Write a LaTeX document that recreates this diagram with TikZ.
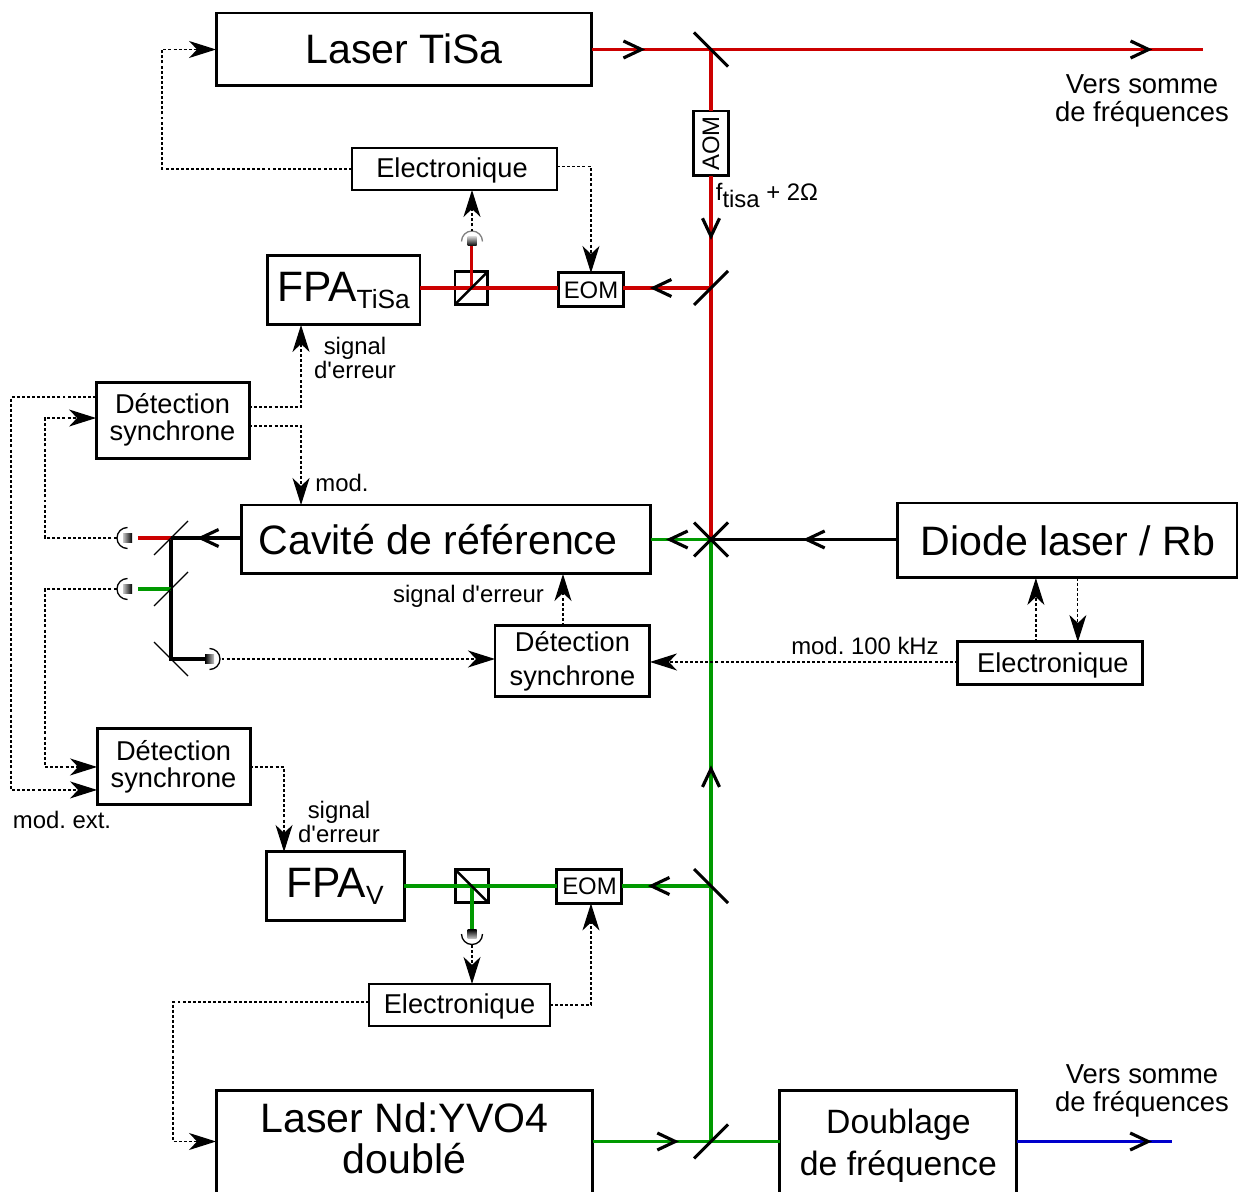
\documentclass[tikz,border=0pt]{standalone}
\usepackage{fontspec}
\usetikzlibrary{arrows.meta,positioning,calc,decorations.markings}
\newfontfamily\arialfont{Liberation Sans}
\definecolor{beamred}{HTML}{CC0000}
\definecolor{beamgreen}{HTML}{009900}
\definecolor{beamblue}{HTML}{0000CC}
\newcommand{\fpasub}[1]{\raisebox{-4pt}{\fontsize{15}{15}\selectfont #1}}
\newcommand{\detector}[4]{%
  \begin{scope}[shift={(#1)},rotate=#2]
    \shade[top color=black,bottom color=gray!45,shading angle=#4] (-4.5,-4.5) rectangle (4.5,4.5);
    \draw[#3,line width=0.75pt] (0,10.5) arc[start angle=90,end angle=270,radius=10.5];
  \end{scope}}
\frenchspacing

\begin{document}
\begin{tikzpicture}[
  x=0.02cm,y=-0.02cm,
  box/.style={draw=black,line width=1.7pt,outer sep=0pt,inner sep=0pt,align=center,fill=white},
  thinbox/.style={box,line width=1.2pt},
  bigtext/.style={font=\arialfont\fontsize{23.4}{23.4}\selectfont},
  fpatext/.style={font=\arialfont\fontsize{24.2}{24.2}\selectfont},
  midtext/.style={font=\arialfont\fontsize{15.5}{15.3}\selectfont},
  largetext/.style={font=\arialfont\fontsize{19.2}{24}\selectfont},
  smalltext/.style={font=\arialfont\fontsize{13.6}{13.6}\selectfont},
  cubebox/.style={draw=black,line width=1.7pt,outer sep=0pt,minimum size=0.66cm},
  beam/.style={line width=1.8pt},
  tipat/.style={postaction={decorate,decoration={markings,
    mark=at position #1 with {\arrow{Straight Barb[black,length=3.6mm,width=3.4mm]}}}}},
  signal/.style={-{Stealth[length=5.4mm,width=3.4mm,inset=1.6mm]},line width=0.7pt,dash pattern=on 1.7pt off 1.2pt},
  mirror/.style={line width=1.8pt},
  thinmirror/.style={line width=0.8pt}
]
  \useasboundingbox (0,0) rectangle (1238,1192);

  % boites
  \node[box,bigtext,text depth=1pt,minimum width=7.52cm,minimum height=1.46cm] (lasertisa) at (404,49.5) {Laser TiSa};
  \node[thinbox,midtext,text depth=1pt,minimum width=4.10cm,minimum height=0.84cm,below=1.24cm of lasertisa,xshift=1.01cm] (electisa) {Electronique\hspace*{0.1cm}};
  \node[box,fpatext,minimum width=3.06cm,minimum height=1.38cm,below=1.32cm of electisa,xshift=-2.22cm] (fpatisa) {FPA\fpasub{TiSa}};
  \node[cubebox,right=0.70cm of fpatisa,yshift=0.05cm] (cubetisa) {};
  \node[box,smalltext,minimum width=1.30cm,minimum height=0.68cm,right=1.41cm of cubetisa,yshift=-0.04cm] (eomtisa) {EOM};
  \node[box,smalltext,rotate=90,minimum width=1.30cm,minimum height=0.70cm] (aom) at (711,143.5) {AOM};

  \node[box,bigtext,minimum width=8.20cm,minimum height=1.38cm] (cavite) at (446,539.5) {Cavité de référence\hspace*{0.32cm}};
  \node[box,midtext,minimum width=3.06cm,minimum height=1.52cm,above=0.94cm of cavite,xshift=-5.47cm] (dettisa) {Détection\\synchrone};
  \node[box,midtext,font=\arialfont\fontsize{15.5}{19}\selectfont,minimum width=3.10cm,minimum height=1.42cm,below=1.04cm of cavite,xshift=2.53cm] (detcav) {Détection\\synchrone};
  \node[box,bigtext,minimum width=6.80cm,minimum height=1.50cm,right=4.94cm of cavite,yshift=-0.02cm] (diode) {Diode laser / Rb};
  \node[box,midtext,text depth=1pt,minimum width=3.70cm,minimum height=0.86cm,below=1.28cm of diode,xshift=-0.35cm] (elecdiode) {\hspace*{0.1cm}Electronique};

  \node[box,midtext,minimum width=3.06cm,minimum height=1.52cm,below=5.42cm of dettisa,xshift=0.02cm] (detnd) {Détection\\synchrone};
  \node[box,fpatext,minimum width=2.76cm,minimum height=1.38cm,below=0.94cm of detnd,xshift=3.23cm] (fpand) {FPA\fpasub{V}};
  \node[cubebox,right=1.03cm of fpand] (cubend) {};
  \node[box,smalltext,minimum width=1.30cm,minimum height=0.68cm,right=1.37cm of cubend] (eomnd) {EOM};
  \node[thinbox,midtext,text depth=1pt,minimum width=3.62cm,minimum height=0.84cm,below=1.62cm of cubend,xshift=-0.25cm] (elecnd) {Electronique};
  \node[box,bigtext,text depth=0.30cm,minimum width=7.54cm,minimum height=2.20cm,below=1.30cm of elecnd,xshift=-1.10cm] (laserNd) {Laser Nd:YVO4\\doublé};
  \node[box,largetext,minimum width=4.74cm,minimum height=2.20cm,right=3.74cm of laserNd] (doublage) {Doublage\\de fréquence};

  % miroirs et detecteurs
  \coordinate (mtop) at (711,49.5);
  \coordinate (mtisa) at (711,288);
  \coordinate (mcross) at (711,539.5);
  \coordinate (mnd) at (711,886);
  \coordinate (mdouble) at (711,1141.5);
  \coordinate (msplit) at (171,538);
  \coordinate (mgreen) at (171,589);
  \coordinate (mbend) at (171,659);
  \coordinate (dettop) at (472,241.5);
  \coordinate (detlow) at (472,934);
  \coordinate (detred) at (127.5,538);
  \coordinate (detgreen) at (127.5,589);
  \coordinate (detdark) at (209.5,659);
  \coordinate (outtisa) at (1203,49.5);
  \coordinate (outblue) at (1172,1141.5);

  % faisceaux
  \draw[beam,beamred,tipat=0.087,tipat=0.917] (lasertisa.east) -- (outtisa);
  \draw[beam,beamred] (mtop) -- (aom.east);
  \draw[beam,beamred,tipat=0.176] (aom.west) -- (mcross);
  \draw[beam,beamred,tipat=0.70] (mtisa) -- (mtisa -| eomtisa.east);
  \draw[beam,beamred] (eomtisa.west |- mtisa) -- (fpatisa.east |- mtisa);
  \draw[beam,beamred] (cubetisa.center) -- (cubetisa.center |- {$(dettop)+(0,5)$});
  \draw[beam,tipat=0.508] (diode.west |- mcross) -- (mcross);
  \draw[beam,beamgreen,tipat=0.75] (mcross) -- (cavite.east);
  \draw[beam,beamgreen,tipat=0.625] (mdouble) -- (mcross);
  \draw[beam,beamgreen,tipat=0.46] (laserNd.east |- mdouble) -- (doublage.west |- mdouble);
  \draw[beam,beamgreen,tipat=0.71] (mnd) -- (mnd -| eomnd.east);
  \draw[beam,beamgreen] (eomnd.west |- mnd) -- (fpand.east |- mnd);
  \draw[beam,beamgreen] (cubend.center) -- (cubend.center |- {$(detlow)+(0,-5)$});
  \draw[beam,beamblue,tipat=0.87] (doublage.east |- outblue) -- (outblue);
  \draw[beam,tipat=0.63] (cavite.west |- msplit) -- (msplit);
  \draw[beam] (msplit) -- (mbend) -- ($(detdark)+(-5,0)$);
  \draw[beam,beamred] (msplit) -- ($(detred)+(10,0)$);
  \draw[beam,beamgreen] (mgreen) -- ($(detgreen)+(10,0)$);

  \draw[mirror,shift={(mtop)}] (-17,-17) -- (17,17);
  \draw[mirror,shift={(mtisa)}] (-17,17) -- (17,-17);
  \draw[mirror,shift={(mcross)}] (-17,-17) -- (17,17) (-17,17) -- (17,-17);
  \draw[mirror,shift={(mnd)}] (-17,-17) -- (17,17);
  \draw[mirror,shift={(mdouble)}] (-17,17) -- (17,-17);
  \draw[thinmirror,shift={(msplit)}] (-17,17) -- (17,-17);
  \draw[thinmirror,shift={(mgreen)}] (-17,17) -- (17,-17);
  \draw[thinmirror,shift={(mbend)}] (-17,-17) -- (17,17);
  \draw[line width=1.4pt] (cubetisa.south west) -- (cubetisa.north east);
  \draw[line width=1.4pt] (cubend.north west) -- (cubend.south east);

  \detector{dettop}{-90}{gray}{180}
  \detector{detlow}{90}{black}{0}
  \detector{detred}{0}{black}{-90}
  \detector{detgreen}{0}{black}{-90}
  \detector{detdark}{180}{black}{90}

  % liaisons electroniques
  \draw[signal] (electisa.west) -- ++(-190,0) |- (lasertisa.west);
  \draw[signal] ([yshift=0.05cm]electisa.east) -| (eomtisa.north);
  \draw[signal] ($(dettop)+(0,-10)$) -- (dettop |- electisa.south);
  \draw[signal] ([yshift=0.26cm]dettisa.east) -| ([xshift=-0.85cm]fpatisa.south);
  \draw[signal] ([yshift=-0.12cm]dettisa.east) -| ([xshift=-2.90cm]cavite.north);
  \draw[signal] ([yshift=0.46cm]dettisa.west) -- ++(-85,0) |- ([yshift=-0.46cm]detnd.west);
  \draw[signal] ($(detred)+(-11,0)$) -- ++(-71.5,0) |- ([yshift=0.04cm]dettisa.west);
  \draw[signal] ($(detgreen)+(-11,0)$) -- ++(-71.5,0) |- (detnd.west);
  \draw[signal] ($(detdark)+(12,0)$) -- (detdark -| detcav.west);
  \draw[signal] ([xshift=-0.19cm]detcav.north) -- ([xshift=-0.19cm]detcav.north |- cavite.south);
  \draw[signal] ([yshift=0.03cm]elecdiode.west) -- ([yshift=0.03cm]elecdiode.west -| detcav.east);
  \draw[signal] ([xshift=-0.29cm]elecdiode.north) -- ([xshift=-0.29cm]elecdiode.north |- diode.south);
  \draw[signal] ([xshift=0.55cm]elecdiode.north |- diode.south) -- ([xshift=0.55cm]elecdiode.north);
  \draw[signal] (detnd.east) -| ([xshift=-1.02cm]fpand.north);
  \draw[signal] ($(detlow)+(0,11)$) -- (detlow |- elecnd.north);
  \draw[signal] (elecnd.east) -| ([xshift=0.03cm]eomnd.south);
  \draw[signal] ([yshift=0.06cm]elecnd.west) -- ++(-196,0) |- (laserNd.west |- mdouble);

  % textes
  \node[align=center,font=\arialfont\fontsize{15.6}{15.5}\selectfont] (verstisa) at (1142,101) {Vers somme\\de fréquences};
  \node[align=center,font=\arialfont\fontsize{15.6}{15.5}\selectfont] (versblue) at (1142,1091) {Vers somme\\de fréquences};
  \node[smalltext,align=center] (errtisa) at (355,358) {signal\\d\char39 erreur};
  \node[smalltext,align=center] (errnd) at (339,822) {signal\\d\char39 erreur};
  \node[smalltext] (modcav) at (342,483) {mod.};
  \node[smalltext] (errcav) at (468.5,596) {signal d\char39 erreur};
  \node[smalltext] (moddiode) at (865,646) {mod. 100 kHz};
  \node[smalltext] (modext) at (62,820) {mod. ext.};
  \node[smalltext] (ftisa) at (767,195) {f\raisebox{-4pt}{tisa} + 2Ω};
\end{tikzpicture}
\end{document}
